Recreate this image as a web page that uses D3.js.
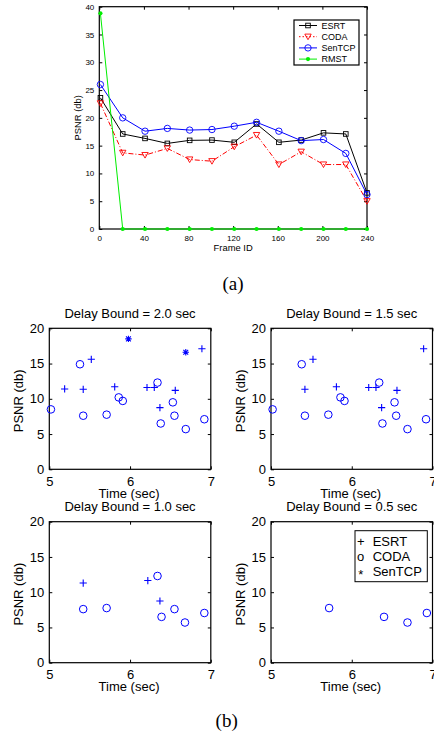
<!DOCTYPE html>
<html lang="en">
<head>
<meta charset="UTF-8">
<title>PSNR charts</title>
<script src="https://d3js.org/d3.v7.min.js"></script>
<style>
  body { margin: 0; background: #fff; }
  svg { display: block; }
  text { font-family: "Liberation Sans", Arial, Helvetica, sans-serif; fill: #000; }
</style>
</head>
<body>
<svg id="chart" width="434" height="739"></svg>
<script>
// ---- (a) PSNR per frame ----
const frames = [1, 21, 41, 61, 81, 101, 121, 141, 161, 181, 201, 221, 240];
const esrt   = [23.6, 17.1, 16.3, 15.4, 15.95, 16.0, 15.6, 18.9, 15.6, 16.0, 17.3, 17.1, 6.5];
const coda   = [22.6, 13.7, 13.3, 14.5, 12.5, 12.2, 14.8, 16.9, 11.6, 13.9, 11.6, 11.6, 5.0];
const sentcp = [26.0, 20.0, 17.6, 18.1, 17.8, 17.9, 18.5, 19.2, 17.6, 15.9, 16.1, 13.6, 6.2];
const rmst   = [38.8, 0, 0, 0, 0, 0, 0, 0, 0, 0, 0, 0, 0];
const frameTicks = [0, 40, 80, 120, 160, 200, 240];
const psnrTicksA = [0, 5, 10, 15, 20, 25, 30, 35, 40];

// ---- (b) PSNR over time, per delay bound ----
const panelTitles = ["Delay Bound = 2.0 sec", "Delay Bound = 1.5 sec",
                     "Delay Bound = 1.0 sec", "Delay Bound = 0.5 sec"];
// [time, psnr]
const esrt20 = [[5.19, 11.4], [5.42, 11.35], [5.52, 15.6], [5.81, 11.7], [6.21, 11.6],
                [6.30, 11.6], [6.37, 8.75], [6.56, 11.2], [6.89, 17.1]];
const coda20 = [[5.02, 8.5], [5.38, 14.9], [5.42, 7.6], [5.71, 7.75], [5.86, 10.2], [5.91, 9.7],
                [6.34, 12.3], [6.38, 6.5], [6.53, 9.5], [6.55, 7.6], [6.69, 5.7], [6.92, 7.1]];
const sentcp20 = [[5.98, 18.5], [6.69, 16.6]];
const esrt15 = [[5.42, 11.35], [5.52, 15.6], [5.81, 11.7], [6.21, 11.6],
                [6.30, 11.6], [6.37, 8.75], [6.56, 11.2], [6.89, 17.1]];
const coda15 = [[5.02, 8.5], [5.38, 14.9], [5.42, 7.6], [5.71, 7.75], [5.86, 10.2], [5.91, 9.7],
                [6.34, 12.3], [6.38, 6.5], [6.53, 9.5], [6.55, 7.6], [6.69, 5.7], [6.92, 7.1]];
const sentcp15 = [];
const esrt10 = [[5.42, 11.3], [6.22, 11.65], [6.37, 8.75]];
const coda10 = [[5.42, 7.6], [5.71, 7.75], [6.34, 12.3], [6.39, 6.5], [6.55, 7.6], [6.68, 5.7], [6.92, 7.05]];
const sentcp10 = [];
const esrt05 = [];
const coda05 = [[5.72, 7.75], [6.40, 6.5], [6.69, 5.7], [6.93, 7.05]];
const sentcp05 = [];
const timeTicks = [5, 6, 7];
const psnrTicksB = [0, 5, 10, 15, 20];

const svg = d3.select("#chart");
const intFmt = d3.format("d");

// matlab style box: inward ticks on all four sides
function boxAxes(g, x, y, xt, yt, fs, xpad, ypad) {
  const [x0, x1] = x.range(), [y0, y1] = y.range();
  g.append("g").attr("transform", `translate(0,${y0})`)
    .call(d3.axisBottom(x).tickValues(xt).tickFormat(intFmt).tickSizeInner(-3).tickSizeOuter(0).tickPadding(xpad))
    .call(a => a.select(".domain").remove());
  g.append("g").attr("transform", `translate(0,${y1})`)
    .call(d3.axisTop(x).tickValues(xt).tickSizeInner(-3).tickSizeOuter(0).tickFormat(""))
    .call(a => a.select(".domain").remove());
  g.append("g").attr("transform", `translate(${x0},0)`)
    .call(d3.axisLeft(y).tickValues(yt).tickFormat(intFmt).tickSizeInner(-3).tickSizeOuter(0).tickPadding(ypad))
    .call(a => a.select(".domain").remove());
  g.append("g").attr("transform", `translate(${x1},0)`)
    .call(d3.axisRight(y).tickValues(yt).tickSizeInner(-3).tickSizeOuter(0).tickFormat(""))
    .call(a => a.select(".domain").remove());
  g.selectAll(".tick text")
    .attr("font-family", '"Liberation Sans", Arial, Helvetica, sans-serif')
    .attr("font-size", fs).attr("fill", "#000");
  g.selectAll(".tick line").attr("stroke", "#000");
  g.append("rect")
    .attr("x", x0).attr("y", y1).attr("width", x1 - x0).attr("height", y0 - y1)
    .attr("fill", "none").attr("stroke", "#000").attr("stroke-width", 1.2);
}

// ---------- chart (a) ----------
const xA = d3.scaleLinear().domain([0, 240]).range([99.3, 367]);
const yA = d3.scaleLinear().domain([0, 40]).range([229, 6.7]);
const gA = svg.append("g");
boxAxes(gA, xA, yA, frameTicks, psnrTicksA, 8, 6, 5);

gA.append("text").attr("x", (99.3 + 367) / 2).attr("y", 251)
  .attr("text-anchor", "middle").attr("font-size", 9.4).text("Frame ID");
gA.append("text").attr("transform", `translate(77,${(229 + 6.7) / 2}) rotate(-90)`)
  .attr("text-anchor", "middle").attr("dominant-baseline", "central")
  .attr("font-size", 9.4).text("PSNR (db)");

const seriesA = [
  { name: "ESRT", vals: esrt, color: "#000", dash: null, marker: "square" },
  { name: "CODA", vals: coda, color: "#ff0000", dash: "5,2,1,2", marker: "tri" },
  { name: "SenTCP", vals: sentcp, color: "#0000ff", dash: null, marker: "circle" },
  { name: "RMST", vals: rmst, color: "#00ee00", dash: null, marker: "dot" }
];

function drawMarker(g, type, cx, cy, color) {
  if (type === "square") {
    g.append("rect").attr("x", cx - 2.3).attr("y", cy - 2.3).attr("width", 4.6).attr("height", 4.6)
      .attr("fill", "none").attr("stroke", color).attr("stroke-width", 0.9);
  } else if (type === "tri") {
    g.append("path").attr("d", `M${cx - 3.2},${cy - 2.6}L${cx + 3.2},${cy - 2.6}L${cx},${cy + 3}Z`)
      .attr("fill", "none").attr("stroke", color).attr("stroke-width", 0.9);
  } else if (type === "circle") {
    g.append("circle").attr("cx", cx).attr("cy", cy).attr("r", 3.2)
      .attr("fill", "none").attr("stroke", color).attr("stroke-width", 0.9);
  } else if (type === "dot") {
    g.append("circle").attr("cx", cx).attr("cy", cy).attr("r", 2.1).attr("fill", color);
  }
}

const lineA = d3.line().x(d => xA(d[0])).y(d => yA(d[1]));
seriesA.forEach(s => {
  const pts = frames.map((f, i) => [f, s.vals[i]]);
  gA.append("path").datum(pts).attr("d", lineA)
    .attr("fill", "none").attr("stroke", s.color).attr("stroke-width", 1)
    .attr("stroke-dasharray", s.dash);
  pts.forEach(p => drawMarker(gA, s.marker, xA(p[0]), yA(p[1]), s.color));
});

// legend (a)
const legA = gA.append("g");
legA.append("rect").attr("x", 294).attr("y", 20).attr("width", 65).attr("height", 45)
  .attr("fill", "#fff").attr("stroke", "#000").attr("stroke-width", 1.2);
seriesA.forEach((s, i) => {
  const ly = 25.5 + i * 11.2;
  legA.append("line").attr("x1", 299).attr("x2", 317).attr("y1", ly).attr("y2", ly)
    .attr("stroke", s.color).attr("stroke-width", 1).attr("stroke-dasharray", s.dash ? "1.5,2" : null);
  drawMarker(legA, s.marker, 308, ly, s.color);
  legA.append("text").attr("x", 321.5).attr("y", ly).attr("dominant-baseline", "central")
    .attr("font-size", 9).text(s.name);
});

svg.append("text").attr("x", 233).attr("y", 283).attr("text-anchor", "middle")
  .attr("dominant-baseline", "central")
  .style("font-family", '"Liberation Serif", "Times New Roman", serif')
  .attr("font-size", 19).text("(a)");

// ---------- chart (b) ----------
const panels = [
  { title: panelTitles[0], left: 49.3, top: 328.3, esrt: esrt20, coda: coda20, sentcp: sentcp20 },
  { title: panelTitles[1], left: 271, top: 328.3, esrt: esrt15, coda: coda15, sentcp: sentcp15 },
  { title: panelTitles[2], left: 49.3, top: 521.7, esrt: esrt10, coda: coda10, sentcp: sentcp10 },
  { title: panelTitles[3], left: 271, top: 521.7, esrt: esrt05, coda: coda05, sentcp: sentcp05 }
];
const pw = 161.5, ph = 141;
const blue = "#0000ff";

panels.forEach((p, k) => {
  const g = svg.append("g");
  const x = d3.scaleLinear().domain([5, 7]).range([p.left, p.left + pw]);
  const y = d3.scaleLinear().domain([0, 20]).range([p.top + ph, p.top]);
  boxAxes(g, x, y, timeTicks, psnrTicksB, 13, 7, 5);

  g.append("text").attr("x", p.left + pw / 2).attr("y", p.top - 15)
    .attr("text-anchor", "middle").attr("dominant-baseline", "central")
    .attr("font-size", 13).text(p.title);
  g.append("text").attr("x", p.left + pw / 2 - 1).attr("y", p.top + ph + 28.5)
    .attr("text-anchor", "middle").attr("font-size", 13).text("Time (sec)");
  g.append("text").attr("transform", `translate(${p.left - 31},${p.top + ph / 2 + 2}) rotate(-90)`)
    .attr("text-anchor", "middle").attr("dominant-baseline", "central")
    .attr("font-size", 13).text("PSNR (db)");

  g.selectAll(".coda").data(p.coda).join("circle").attr("class", "coda")
    .attr("cx", d => x(d[0])).attr("cy", d => y(d[1])).attr("r", 3.8)
    .attr("fill", "none").attr("stroke", blue).attr("stroke-width", 1);
  g.selectAll(".esrt").data(p.esrt).join("path").attr("class", "esrt")
    .attr("d", d => `M${x(d[0]) - 3.6},${y(d[1])}h7.2M${x(d[0])},${y(d[1]) - 3.6}v7.2`)
    .attr("stroke", blue).attr("stroke-width", 1.1);
  g.selectAll(".sentcp").data(p.sentcp).join("path").attr("class", "sentcp")
    .attr("d", d => {
      const cx = x(d[0]), cy = y(d[1]);
      return `M${cx - 3.2},${cy}h6.4M${cx},${cy - 3.2}v6.4` +
             `M${cx - 2.4},${cy - 2.4}l4.8,4.8M${cx - 2.4},${cy + 2.4}l4.8,-4.8`;
    })
    .attr("stroke", blue).attr("stroke-width", 1.1);

  if (k === 3) {
    const lg = g.append("g");
    lg.append("rect").attr("x", 355).attr("y", 530.7).attr("width", 72.3).attr("height", 51)
      .attr("fill", "#fff").attr("stroke", "#000").attr("stroke-width", 1);
    ["+", "o", "*"].forEach((m, i) => {
      const ly = 541.7 + i * 15;
      lg.append("text").attr("x", 360.7).attr("y", m === "*" ? ly + 3 : ly).attr("text-anchor", "middle")
        .attr("dominant-baseline", "central").attr("font-size", 13).text(m);
      lg.append("text").attr("x", 372.7).attr("y", ly).attr("dominant-baseline", "central")
        .attr("font-size", 13).text(["ESRT", "CODA", "SenTCP"][i]);
    });
  }
});

svg.append("text").attr("x", 226.7).attr("y", 720).attr("text-anchor", "middle")
  .attr("dominant-baseline", "central")
  .style("font-family", '"Liberation Serif", "Times New Roman", serif')
  .attr("font-size", 19).text("(b)");
</script>
</body>
</html>
